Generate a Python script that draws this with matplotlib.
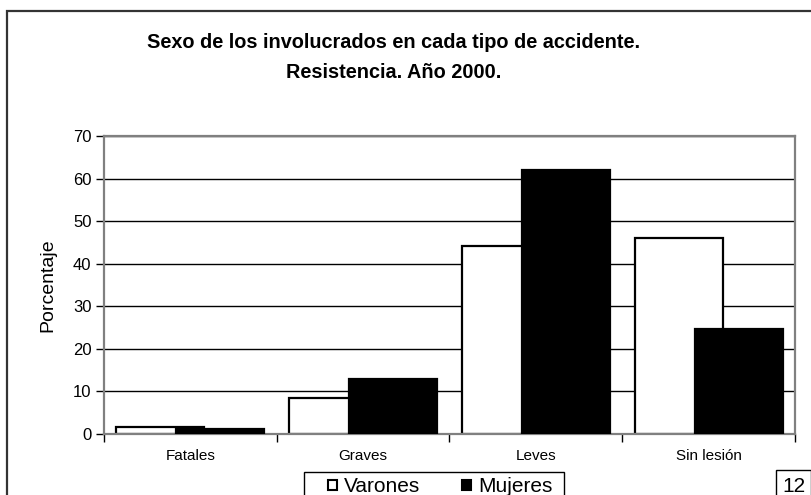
import matplotlib
matplotlib.use("Agg")
import matplotlib.pyplot as plt
from matplotlib.patches import Patch, Rectangle
import numpy as np

# Data
categorias = ["Fatales", "Graves", "Leves", "Sin lesión"]
varones = [1.6, 8.5, 44.2, 46.0]
mujeres = [1.2, 12.9, 62.0, 24.6]
yticks = [0, 10, 20, 30, 40, 50, 60, 70]

plt.rcParams["font.family"] = ["Liberation Sans", "DejaVu Sans"]

W, H = 812, 495
fig = plt.figure(figsize=(W / 100, H / 100), dpi=100)

def fx(px):
    return px / W

def fy(py):
    return 1 - py / H

# Chart outer frame (runs off the right and bottom edges)
fig.patches.append(Rectangle((fx(7), fy(520)), fx(840 - 7), fy(11) - fy(520),
                             transform=fig.transFigure, fill=False,
                             edgecolor="#333333", linewidth=1.6))

ax = fig.add_axes([fx(104), fy(434), fx(795) - fx(104), fy(136) - fy(434)])

x = np.arange(len(categorias))
width = 0.51
off = 0.174
ax.bar(x - off, varones, width, color="white", edgecolor="black", linewidth=1.6, zorder=2)
ax.bar(x + off, mujeres, width, color="black", edgecolor="black", linewidth=1.6, zorder=3)

ax.set_xlim(-0.5, len(categorias) - 0.5)
ax.set_ylim(0, 70)
ax.set_yticks(yticks)
ax.set_yticklabels([str(v) for v in yticks], fontsize=12)
ax.set_xticks(np.arange(len(categorias) + 1) - 0.5)
ax.set_xticklabels([])
ax.set_xticks(x, minor=True)
ax.set_xticklabels(categorias, minor=True, fontsize=11)
ax.tick_params(axis="x", which="minor", length=0, pad=11)
ax.tick_params(axis="x", which="major", length=6, width=1, color="black")
ax.tick_params(axis="y", length=6, width=1, color="black", pad=3)

ax.yaxis.grid(True, color="black", linewidth=1, zorder=0)
ax.set_axisbelow(True)
for s in ax.spines.values():
    s.set_color("#808080")
    s.set_linewidth(1.6)

ax.set_ylabel("Porcentaje", fontsize=14, labelpad=12)

# Title
fig.text(fx(394), fy(43), "Sexo de los involucrados en cada tipo de accidente.",
         ha="center", va="center", fontsize=14.3, fontweight="bold")
fig.text(fx(394), fy(72), "Resistencia. Año 2000.",
         ha="center", va="center", fontsize=14.3, fontweight="bold")

# Legend frame (open at the bottom edge of the figure) and entries
fig.patches.append(Rectangle((fx(304), fy(520)), fx(564) - fx(304), fy(472) - fy(520),
                             transform=fig.transFigure, fill=False,
                             edgecolor="black", linewidth=1.0))
handles = [Patch(facecolor="white", edgecolor="black", linewidth=1.5, label="Varones"),
           Patch(facecolor="black", edgecolor="black", linewidth=1.5, label="Mujeres")]
leg = fig.legend(handles=handles, loc="center left", ncol=2,
                 bbox_to_anchor=(fx(328), fy(487)),
                 fontsize=15, frameon=False,
                 handlelength=0.42, handleheight=0.42, handletextpad=0.35,
                 borderpad=0, borderaxespad=0, columnspacing=2.0)

# Page number box at the lower right
fig.text(fx(782), fy(486), "12", ha="left", va="center", fontsize=15,
         bbox=dict(boxstyle="square,pad=0.3", facecolor="white", edgecolor="black", linewidth=1.0))

fig.savefig("out.png", dpi=100)
